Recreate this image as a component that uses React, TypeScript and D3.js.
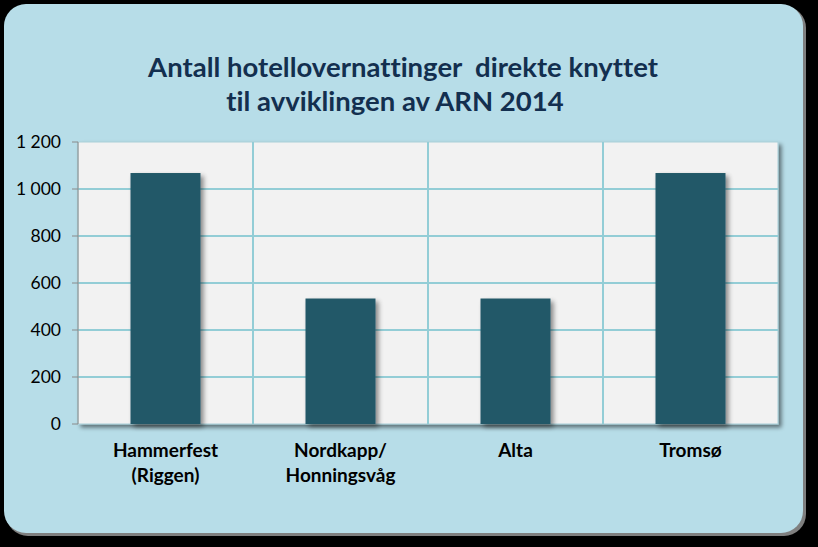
import React from "react";
import * as d3 from "d3";

const categories = [["Hammerfest", "(Riggen)"], ["Nordkapp/", "Honningsvåg"], ["Alta"], ["Tromsø"]];
const values = [1068, 534, 534, 1068];
const yTicks = [0, 200, 400, 600, 800, 1000, 1200];
const titleLines = ["Antall hotellovernattinger  direkte knyttet", "til avviklingen av ARN 2014"];

export default function App() {
  const W = 818, H = 547;
  const left = 78, right = 778, top = 142, bottom = 424;
  const x = d3.scaleBand<number>().domain(d3.range(categories.length)).range([left, right]).paddingInner(0).paddingOuter(0);
  const y = d3.scaleLinear().domain([0, 1200]).range([bottom, top]);
  const bw = x.bandwidth() * 0.4;
  const fmt = (v: number) => d3.format(",")(v).replace(",", " ");
  const font = "Lato, 'Open Sans', sans-serif";
  const titleX = [403, 395];
  return (
    <svg width={W} height={H} style={{ position: "absolute", left: 0, top: 0, fontVariantLigatures: "none" }}>
      <defs>
        <filter id="sh" x="-20%" y="-20%" width="150%" height="150%">
          <feGaussianBlur in="SourceAlpha" stdDeviation="2.5" />
          <feOffset dx="3" dy="3" result="o" />
          <feComponentTransfer><feFuncA type="linear" slope="0.45" /></feComponentTransfer>
          <feMerge><feMergeNode /><feMergeNode in="SourceGraphic" /></feMerge>
        </filter>
        <filter id="sh2" x="-10%" y="-10%" width="130%" height="130%">
          <feGaussianBlur in="SourceAlpha" stdDeviation="2" />
          <feOffset dx="3" dy="3" />
          <feComponentTransfer><feFuncA type="linear" slope="0.5" /></feComponentTransfer>
          <feMerge><feMergeNode /><feMergeNode in="SourceGraphic" /></feMerge>
        </filter>
      </defs>
      <rect x={0} y={0} width={W} height={H} fill="#000" />
      <rect x={6} y={6} width={800} height={530} rx={22} fill="#7f7f7f" />
      <rect x={4} y={4} width={799} height={529} rx={22} fill="#b7dde8" />
      {titleLines.map((t, i) => (
        <text key={i} x={titleX[i]} y={77 + i * 34} textAnchor="middle" fontFamily={font} fontWeight="bold" fontSize={27.5} fill="#132f4f" style={{ whiteSpace: "pre", fontVariantLigatures: "none" }}>{t}</text>
      ))}
      <g filter="url(#sh2)">
        <rect x={left} y={top} width={right - left} height={bottom - top} fill="#f2f2f2" stroke="#a9cfd8" strokeWidth={1} />
      </g>
      {yTicks.filter(t => t > 0 && t < 1200).map(t => (
        <line key={t} x1={left} x2={right} y1={y(t)} y2={y(t)} stroke="#93cdd6" strokeWidth={2} />
      ))}
      {d3.range(1, categories.length).map(i => (
        <line key={i} x1={x(i)!} x2={x(i)!} y1={top} y2={bottom} stroke="#93cdd6" strokeWidth={2} />
      ))}
      <line x1={left} x2={left} y1={top} y2={bottom} stroke="#8a8a8a" strokeWidth={1} />
      {yTicks.map(t => (
        <g key={t}>
          <line x1={left - 6} x2={left} y1={y(t)} y2={y(t)} stroke="#8a8a8a" strokeWidth={1} />
          <text x={61} y={y(t) + 6} textAnchor="end" fontFamily={font} fontSize={17.5} fill="#000">{fmt(t)}</text>
        </g>
      ))}
      {values.map((v, i) => (
        <rect key={i} filter="url(#sh)" x={x(i)! + (x.bandwidth() - bw) / 2} y={y(v)} width={bw} height={bottom - y(v)} fill="#215968" />
      ))}
      {categories.map((lines, i) => (
        <text key={i} textAnchor="middle" fontFamily={font} fontWeight="bold" fontSize={19} fill="#000">
          {lines.map((l, j) => (
            <tspan key={j} x={x(i)! + x.bandwidth() / 2} y={457 + j * 25}>{l}</tspan>
          ))}
        </text>
      ))}
    </svg>
  );
}
